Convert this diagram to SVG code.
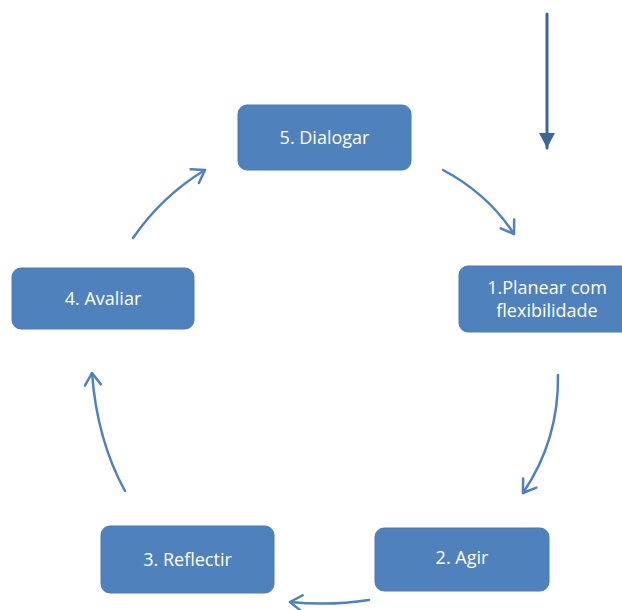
<svg xmlns="http://www.w3.org/2000/svg" width="622" height="610" viewBox="0 0 622 610">
<defs>
<style>
.node rect{fill:#4f81bd;stroke:#4a7ab3;stroke-width:1}
.node text{fill:#ffffff;font-family:"Open Sans","Liberation Sans",sans-serif;font-size:18px;text-anchor:middle}
.conn path{fill:none;stroke:#4f81bd;stroke-width:2.5;stroke-linecap:round}
</style>
<marker id="open" markerUnits="userSpaceOnUse" markerWidth="20" markerHeight="20" viewBox="-14 -10 18 20" refX="0" refY="0" orient="auto">
<path d="M-12,-8 L0,0 L-12,8" fill="none" stroke="#4f81bd" stroke-width="2.5" stroke-linecap="round" stroke-linejoin="round"/>
</marker>
<marker id="solid" markerUnits="userSpaceOnUse" markerWidth="20" markerHeight="20" viewBox="-16 -10 18 20" refX="0" refY="0" orient="auto">
<path d="M-15,-8 L0,0 L-15,8 Z" fill="#3a6699"/>
</marker>
</defs>
<rect width="622" height="610" fill="#ffffff"/>
<g class="conn" id="connectors">
<path d="M547,14 L547,148" style="stroke:#3a6699;stroke-width:3" marker-end="url(#solid)"/>
<path d="M443,170 Q488,194 514,234" marker-end="url(#open)"/>
<path d="M558,375 Q559,440 523,493" marker-end="url(#open)"/>
<path d="M369,600 Q330,606 290,602" marker-end="url(#open)"/>
<path d="M125,491 Q97,440 92,373" marker-end="url(#open)"/>
<path d="M133,238 Q162,196 205,170" marker-end="url(#open)"/>
</g>
<g class="node" id="n5">
<rect x="238" y="105" width="173" height="65" rx="9"/>
<text x="324.5" y="144">5. Dialogar</text>
</g>
<g class="node" id="n1">
<rect x="459" y="266" width="175" height="66" rx="9"/>
<text x="547" y="294">1.Planear com</text>
<text x="547" y="317">flexibilidade</text>
</g>
<g class="node" id="n2">
<rect x="375" y="528" width="174" height="63" rx="9"/>
<text x="462" y="564">2. Agir</text>
</g>
<g class="node" id="n3">
<rect x="101" y="526" width="173" height="67" rx="9"/>
<text x="187.5" y="566">3. Reflectir</text>
</g>
<g class="node" id="n4">
<rect x="12" y="268" width="182" height="61" rx="9"/>
<text x="103" y="305">4. Avaliar</text>
</g>
</svg>
